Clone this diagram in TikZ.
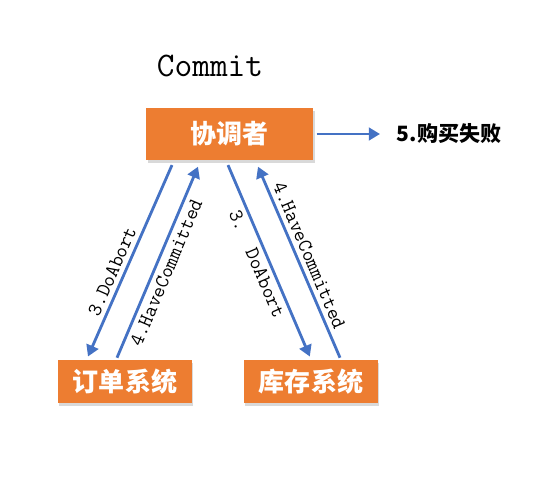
\documentclass[tikz,border=0pt]{standalone}
\usepackage{fontspec}
\usetikzlibrary{arrows.meta,calc,shadows}
\newfontfamily\cjk{Noto Sans CJK SC}
\definecolor{boxorange}{RGB}{237,125,49}
\definecolor{arrblue}{RGB}{68,114,196}

\begin{document}
\begin{tikzpicture}[
    sbox/.style={fill=boxorange,draw=none,text=white,
                 font=\cjk\bfseries\fontsize{18.5}{20}\selectfont,
                 minimum width=3.35cm,minimum height=1.075cm,
                 drop shadow={opacity=0.3,shadow xshift=1pt,shadow yshift=-2pt}},
    arr/.style={-{Triangle[length=8pt,width=9pt]},line width=2pt,arrblue},
    lbl/.style={text=black,font=\ttfamily\fontsize{14.5}{16}\selectfont,
                sloped,inner sep=3pt}
  ]

  \useasboundingbox (0,0) rectangle (13.8,12.375);

  %% ── Title ─────────────────────────────────────────────────────────────────
  \node[font=\ttfamily\fontsize{24.5}{28}\selectfont] (title)
      at (5.25,10.725) {Commit};

  %% ── Coordinator ───────────────────────────────────────────────────────────
  \node[sbox,minimum width=4.175cm,minimum height=1.3cm] (coord)
      at (5.74,9.025) {协调者};
  \coordinate (failend) at (9.5,9.025);
  \draw[arr] ([xshift=0.08cm]coord.east) -- (failend);
  \node[anchor=west,font=\cjk\bfseries\fontsize{15}{16}\selectfont] (fail)
      at (9.8,9.025) {5.购买失败};

  %% ── Participants ──────────────────────────────────────────────────────────
  \node[sbox] (order) at (3.125,2.8375) {订单系统};
  \node[sbox] (stock) at (7.775,2.8375) {库存系统};

  %% ── Messages ──────────────────────────────────────────────────────────────
  \draw[arr] ([xshift=-1.44cm,yshift=-0.12cm]coord.south)
      -- node[lbl,pos=0.58,above]{3.DoAbort}
      ([xshift=-0.925cm,yshift=0.08cm]order.north);
  \draw[arr] ([xshift=-0.2cm,yshift=0.05cm]order.north)
      -- node[lbl,pos=0.47,below]{4.HaveCommitted}
      ([xshift=-0.79cm,yshift=-0.16cm]coord.south);
  \draw[arr] ([xshift=-0.04cm,yshift=-0.12cm]coord.south)
      -- node[lbl,pos=0.49,below]{3.\ \ DoAbort}
      ([xshift=-0.03cm,yshift=0.08cm]stock.north);
  \draw[arr] ([xshift=0.725cm,yshift=0.05cm]stock.north)
      -- node[lbl,pos=0.51,above]{4.HaveCommitted}
      ([xshift=0.71cm,yshift=-0.16cm]coord.south);

\end{tikzpicture}
\end{document}
